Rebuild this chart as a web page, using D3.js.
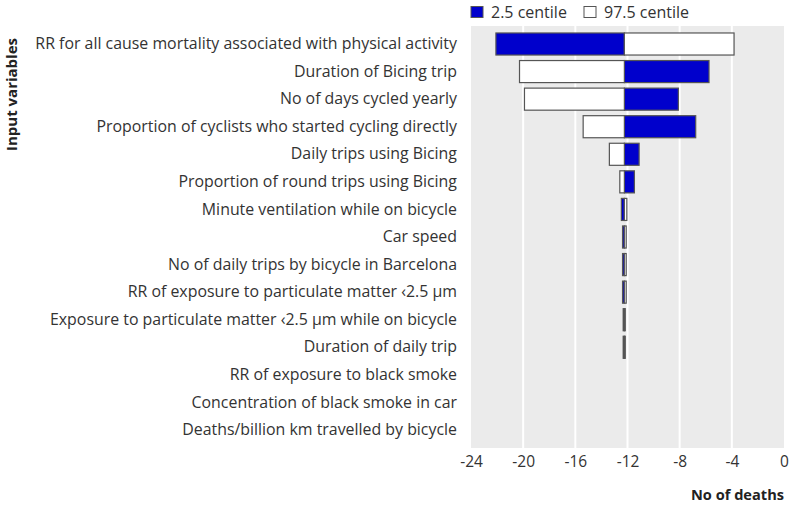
<!DOCTYPE html>
<html>
<head>
<meta charset="utf-8">
<script src="https://cdn.jsdelivr.net/npm/d3@7"></script>
<style>
  body { margin: 0; background: #fff; }
  svg { display: block; font-family: "Open Sans", "Noto Sans", sans-serif; }
</style>
</head>
<body>
<svg id="chart" width="790" height="505"></svg>
<script>
// ---- data ----
const categories = [
  "RR for all cause mortality associated with physical activity",
  "Duration of Bicing trip",
  "No of days cycled yearly",
  "Proportion of cyclists who started cycling directly",
  "Daily trips using Bicing",
  "Proportion of round trips using Bicing",
  "Minute ventilation while on bicycle",
  "Car speed",
  "No of daily trips by bicycle in Barcelona",
  "RR of exposure to particulate matter \u20392.5 \u00b5m",
  "Exposure to particulate matter \u20392.5 \u00b5m while on bicycle",
  "Duration of daily trip",
  "RR of exposure to black smoke",
  "Concentration of black smoke in car",
  "Deaths/billion km travelled by bicycle"
];
const baseline = -12.24;
// outcome when input set at 2.5 centile
const centile2_5 = [-22.09, -5.75, -8.10, -6.77, -11.11, -11.47, -12.47, -12.38, -12.38, -12.38, -12.33, -12.33, -12.24, -12.24, -12.24];
// outcome when input set at 97.5 centile
const centile97_5 = [-3.83, -20.28, -19.90, -15.40, -13.39, -12.59, -12.05, -12.10, -12.10, -12.10, -12.17, -12.17, -12.24, -12.24, -12.24];
const xTicks = [-24, -20, -16, -12, -8, -4, 0];
const seriesNames = ["2.5 centile", "97.5 centile"];
const seriesColors = ["#0000CC", "#FFFFFF"];

// ---- layout ----
const svg = d3.select("#chart");
const panel = { left: 471, right: 784, top: 26, bottom: 448 };

const x = d3.scaleLinear().domain([-24, 0]).range([panel.left, panel.right]);
const y = d3.scaleBand().domain(categories).range([panel.top, panel.bottom])
  .paddingInner(0.2).paddingOuter(0.253);

// panel background
svg.append("rect")
  .attr("x", panel.left).attr("y", panel.top)
  .attr("width", panel.right - panel.left).attr("height", panel.bottom - panel.top)
  .attr("fill", "#EBEBEB");

// vertical grid
svg.append("g").selectAll("line").data(xTicks.filter(t => t > -24 && t < 0)).join("line")
  .attr("x1", d => x(d)).attr("x2", d => x(d))
  .attr("y1", panel.top).attr("y2", panel.bottom)
  .attr("stroke", "#fff").attr("stroke-width", 2);

// bars
const rows = categories.map((c, i) => ({ c, lo: centile2_5[i], hi: centile97_5[i] }));
const bars = [];
rows.forEach(r => {
  if (r.lo !== baseline) bars.push({ c: r.c, v: r.lo, s: 0 });
  if (r.hi !== baseline) bars.push({ c: r.c, v: r.hi, s: 1 });
});
svg.append("g").selectAll("rect").data(bars).join("rect")
  .attr("x", d => Math.min(x(d.v), x(baseline)))
  .attr("width", d => Math.abs(x(d.v) - x(baseline)))
  .attr("y", d => y(d.c))
  .attr("height", y.bandwidth())
  .attr("fill", d => seriesColors[d.s])
  .attr("stroke", "#555")
  .attr("stroke-width", 1.2);

// x axis labels
const xAxis = d3.axisBottom(x).tickValues(xTicks).tickSize(0).tickPadding(8)
  .tickFormat(d => d === 0 ? "0" : String(d));
const gx = svg.append("g").attr("transform", `translate(0,${panel.bottom})`).call(xAxis);
gx.select(".domain").remove();
gx.selectAll("text").attr("font-size", 15.5).attr("fill", "#333")
  .attr("font-family", "'Open Sans', sans-serif");

// y axis labels
const yAxis = d3.axisLeft(y).tickSize(0).tickPadding(14);
const gy = svg.append("g").attr("transform", `translate(${panel.left},0)`).call(yAxis);
gy.select(".domain").remove();
gy.selectAll("text").attr("font-size", 15.9).attr("fill", "#333")
  .attr("font-family", "'Open Sans', sans-serif");

// axis titles
svg.append("text")
  .attr("x", panel.right).attr("y", 500)
  .attr("text-anchor", "end").attr("font-weight", "bold").attr("font-size", 14.6)
  .attr("fill", "#222").text("No of deaths");
svg.append("text")
  .attr("transform", "translate(17,38) rotate(-90)")
  .attr("text-anchor", "end").attr("font-weight", "bold").attr("font-size", 15)
  .attr("fill", "#222").text("Input variables");

// legend
const legend = svg.append("g");
const legendX = [471, 584];
seriesNames.forEach((name, i) => {
  legend.append("rect")
    .attr("x", legendX[i]).attr("y", 6.5)
    .attr("width", 12).attr("height", 11)
    .attr("fill", seriesColors[i]).attr("stroke", "#555").attr("stroke-width", 1);
  legend.append("text")
    .attr("x", legendX[i] + 20).attr("y", 17.5)
    .attr("font-size", 16).attr("fill", "#333").text(name);
});
</script>
</body>
</html>
